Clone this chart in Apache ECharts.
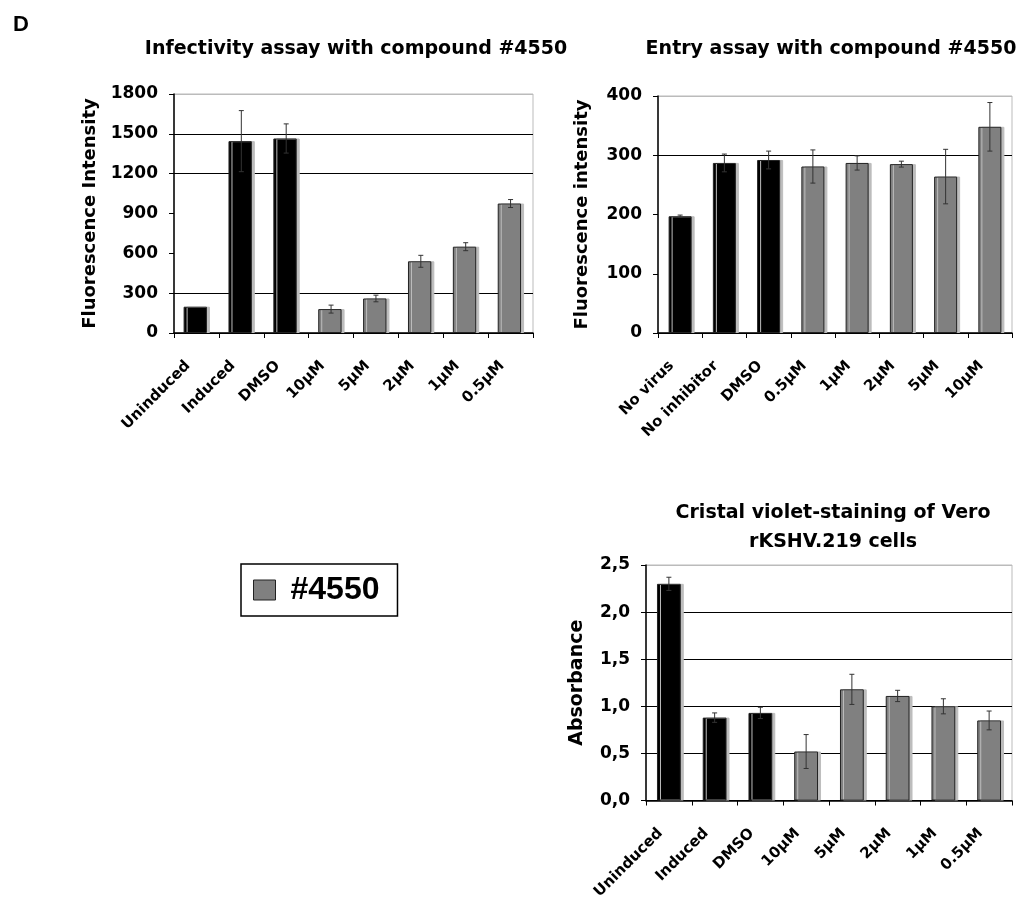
<!DOCTYPE html>
<html><head><meta charset="utf-8">
<script src="https://cdn.jsdelivr.net/npm/echarts@6/dist/echarts.min.js"></script>
<style>html,body{margin:0;padding:0;background:#fff}#c{width:1023px;height:902px}</style>
</head><body><div id="c"></div>
<script>
// ---- data ----
const infCats = ['Uninduced','Induced','DMSO','10µM','5µM','2µM','1µM','0.5µM'];
const infVals = [198, 1445, 1465, 180, 260, 540, 650, 975];
const infErr  = [0, 230, 110, 30, 25, 45, 30, 30];

const entCats = ['No virus','No inhibitor','DMSO','0.5µM','1µM','2µM','5µM','10µM'];
const entVals = [197, 287, 292, 281, 287, 285, 264, 348];
const entErr  = [2, 15, 15, 28, 12, 5, 46, 41];

const cvCats = ['Uninduced','Induced','DMSO','10µM','5µM','2µM','1µM','0.5µM'];
const cvVals = [2.30, 0.88, 0.93, 0.52, 1.18, 1.11, 1.00, 0.85];
const cvErr  = [0.07, 0.05, 0.06, 0.18, 0.16, 0.06, 0.08, 0.10];

const controlCount = 3;
const legendName = '#4550';

// ---- build ----
const FONT = '"DejaVu Sans", sans-serif';
const AFONT = '"Liberation Sans", Arial, sans-serif';
const BLACK = '#000000', GRAY = '#808080';

function barData(vals){
  return vals.map((v,i)=>({value:v, itemStyle:{color: i<controlCount?BLACK:GRAY}}));
}
function errData(vals, errs){
  return vals.map((v,i)=>[i, v-errs[i], v+errs[i]]);
}
function errSeries(idx, vals, errs){
  return {
    type:'custom', xAxisIndex:idx, yAxisIndex:idx, z:5, silent:true,
    data: errData(vals, errs),
    renderItem(params, api){
      const x = api.value(0);
      if (api.value(1) === api.value(2)) return null;
      const lo = api.coord([x, api.value(1)]);
      const hi = api.coord([x, api.value(2)]);
      const cap = 2.5;
      const st = {stroke:'#333', lineWidth:1};
      return {type:'group', children:[
        {type:'line', shape:{x1:lo[0],y1:lo[1],x2:hi[0],y2:hi[1]}, style:st},
        {type:'line', shape:{x1:lo[0]-cap,y1:lo[1],x2:lo[0]+cap,y2:lo[1]}, style:st},
        {type:'line', shape:{x1:hi[0]-cap,y1:hi[1],x2:hi[0]+cap,y2:hi[1]}, style:st}
      ]};
    }
  };
}
function barSeries(idx, vals){
  return {
    type:'bar', xAxisIndex:idx, yAxisIndex:idx, barWidth:'52%',
    data: barData(vals),
    itemStyle:{borderColor:'#222', borderWidth:1, shadowColor:'#bdbdbd', shadowOffsetX:3, shadowBlur:0}
  };
}
function xAxis(idx, cats){
  return {
    type:'category', gridIndex:idx, data:cats,
    axisLine:{lineStyle:{color:'#000', width:1.5}},
    axisTick:{show:true, length:5, lineStyle:{color:'#000'}},
    axisLabel:{rotate:45, interval:0, color:'#000', fontFamily:FONT, fontWeight:'bold', fontSize:15,
      margin:22, padding:[0,12,0,0]}
  };
}
function yAxis(idx, name, max, interval, gap, nameSize, fmt, gridColors){
  return {
    type:'value', gridIndex:idx, min:0, max:max, interval:interval,
    name:name, nameLocation:'middle', nameGap:gap, nameRotate:90,
    nameTextStyle:{color:'#000', fontFamily:FONT, fontWeight:'bold', fontSize:nameSize},
    axisLine:{show:true, lineStyle:{color:'#000', width:1.5}},
    axisTick:{show:true, length:5, inside:false, lineStyle:{color:'#000'}},
    axisLabel:{color:'#000', fontFamily:FONT, fontWeight:'bold', fontSize:17, margin:16, formatter:fmt},
    splitLine:{show:true, lineStyle:{color:gridColors, width:1}}
  };
}
const titleStyle = {color:'#000', fontFamily:FONT, fontWeight:'bold', fontSize:19};

const option = {
  animation:false,
  backgroundColor:'#fff',
  title:[
    {text:'D', left:8, top:9, textStyle:{color:'#000', fontFamily:AFONT, fontWeight:'bold', fontSize:22}},
    {text:'Infectivity assay with compound #4550', left:351, top:35, textAlign:'center', textStyle:titleStyle},
    {text:'Entry assay with compound #4550', left:826, top:35, textAlign:'center', textStyle:titleStyle},
    {text:'Cristal violet-staining of Vero\nrKSHV.219 cells', left:828, top:494, textAlign:'center', textStyle:Object.assign({lineHeight:29}, titleStyle)}
  ],
  legend:{
    data:[{name:legendName, icon:'rect', itemStyle:{color:GRAY, borderColor:'#222', borderWidth:1}}],
    left:241, top:564,
    padding:[10,18,10,12],
    borderColor:'#000', borderWidth:1.5,
    itemWidth:22, itemHeight:20, itemGap:10,
    textStyle:{color:'#000', fontFamily:AFONT, fontWeight:'bold', fontSize:32, padding:[0,0,0,10]},
    selectedMode:false
  },
  grid:[
    {left:174, top:94, width:359, height:239, show:true, borderColor:'#bbb', borderWidth:1},
    {left:658, top:96, width:354, height:237, show:true, borderColor:'#bbb', borderWidth:1},
    {left:646, top:565, width:366, height:238, show:true, borderColor:'#bbb', borderWidth:1}
  ],
  xAxis:[xAxis(0, infCats), xAxis(1, entCats), xAxis(2, cvCats)],
  yAxis:[
    yAxis(0, 'Fluorescence Intensity', 1800, 300, 75, 18, v=>String(v), ['#000','#000','transparent','transparent','#000','#000','#bbb']),
    yAxis(1, 'Fluorescence intensity', 400, 100, 67, 18, v=>String(v), ['#000','transparent','transparent','#000','#bbb']),
    yAxis(2, 'Absorbance', 2.5, 0.5, 59, 19, v=>v.toFixed(1).replace('.',','), ['#000','#000','#000','#000','#000','#bbb'])
  ],
  series:[
    barSeries(0, infVals), errSeries(0, infVals, infErr),
    barSeries(1, entVals), errSeries(1, entVals, entErr),
    barSeries(2, cvVals), errSeries(2, cvVals, cvErr),
    {type:'bar', name:legendName, xAxisIndex:0, yAxisIndex:0, data:[], itemStyle:{color:GRAY}}
  ]
};
const chart = echarts.init(document.getElementById('c'), null, {renderer:'canvas'});
chart.setOption(option);
</script></body></html>
